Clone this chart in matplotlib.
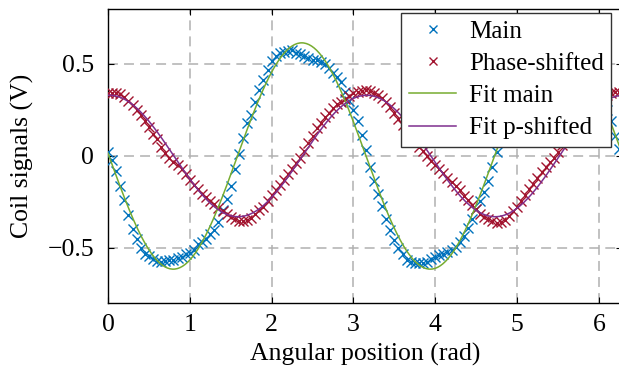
import numpy as np
import matplotlib.pyplot as plt

plt.rcParams['font.family'] = ['Liberation Serif', 'DejaVu Serif']

# sampled angular positions (rad), step 0.05
step = 0.05
n_samples = 126

main = [0.02, -0.02, -0.08, -0.165, -0.24, -0.32, -0.395, -0.45, -0.50, -0.53,
        -0.545, -0.56, -0.57, -0.575, -0.57, -0.565, -0.565, -0.555, -0.547, -0.535,
        -0.525, -0.51, -0.48, -0.465, -0.45, -0.425, -0.40, -0.36, -0.295, -0.235,
        -0.165, -0.07, 0.01, 0.10, 0.18, 0.225, 0.295, 0.36, 0.415, 0.47,
        0.515, 0.545, 0.56, 0.565, 0.572, 0.575, 0.562, 0.552, 0.545, 0.535,
        0.52, 0.52, 0.51, 0.50, 0.48, 0.45, 0.43, 0.40, 0.35, 0.30,
        0.25, 0.19, 0.114, 0.035, -0.06, -0.135, -0.205, -0.27, -0.34, -0.40,
        -0.455, -0.50, -0.535, -0.565, -0.575, -0.58, -0.583, -0.582, -0.575, -0.56,
        -0.55, -0.54, -0.53, -0.52, -0.51, -0.495, -0.465, -0.435, -0.39, -0.34,
        -0.29, -0.245, -0.195, -0.135, -0.06, 0.02, 0.10, 0.18, 0.24, 0.30,
        0.36, 0.42, 0.47, 0.515, 0.545, 0.56, 0.57, 0.575, 0.57, 0.56,
        0.55, 0.54, 0.53, 0.52, 0.51, 0.495, 0.475, 0.45, 0.42, 0.39,
        0.35, 0.30, 0.25, 0.19, 0.11, 0.04]

shifted = [0.345, 0.345, 0.343, 0.337, 0.32, 0.298, 0.277, 0.25, 0.222, 0.192,
           0.157, 0.12, 0.09, 0.05, 0.015, -0.01, -0.03, -0.05, -0.07, -0.10,
           -0.13, -0.155, -0.18, -0.205, -0.225, -0.245, -0.26, -0.28, -0.30, -0.315,
           -0.33, -0.345, -0.355, -0.355, -0.348, -0.335, -0.315, -0.295, -0.275, -0.245,
           -0.21, -0.185, -0.158, -0.13, -0.10, -0.07, -0.04, -0.01, 0.025, 0.07,
           0.11, 0.15, 0.18, 0.21, 0.235, 0.26, 0.28, 0.295, 0.31, 0.325,
           0.34, 0.35, 0.355, 0.36, 0.355, 0.345, 0.33, 0.315, 0.295, 0.265,
           0.235, 0.20, 0.17, 0.14, 0.11, 0.08, 0.05, 0.025, 0.0, -0.025,
           -0.05, -0.072, -0.095, -0.118, -0.14, -0.162, -0.185, -0.215, -0.24, -0.265,
           -0.29, -0.315, -0.33, -0.345, -0.355, -0.365, -0.36, -0.35, -0.325, -0.30,
           -0.275, -0.245, -0.21, -0.18, -0.15, -0.12, -0.085, -0.06, -0.035, -0.01,
           0.02, 0.06, 0.10, 0.14, 0.175, 0.21, 0.24, 0.265, 0.285, 0.30,
           0.315, 0.325, 0.33, 0.34, 0.348, 0.35]

# fitted model parameters: A*cos(2*(x - x0))
fit_main_amp, fit_main_x0 = 0.615, 0.012 + 3 * np.pi / 4
fit_shift_amp, fit_shift_x0 = 0.33, 0.02

x = np.arange(n_samples) * step
xf = np.linspace(0, 2 * np.pi, 400)
fit_main = fit_main_amp * np.cos(2 * (xf - fit_main_x0))
fit_shift = fit_shift_amp * np.cos(2 * (xf - fit_shift_x0))

fig = plt.figure(figsize=(6.19, 3.75), dpi=100)
ax = fig.add_axes([108 / 619, 1 - 303.2 / 375, 514 / 619, 294.4 / 375])

ax.plot(x, main, 'x', color='#0072BD', ms=6.5, mew=1.0, label='Main', zorder=3)
ax.plot(x, shifted, 'x', color='#A2142F', ms=6.5, mew=1.0, label='Phase-shifted', zorder=3)
ax.plot(xf, fit_main, color='#77AC30', lw=1.1, label='Fit main', zorder=4)
ax.plot(xf, fit_shift, color='#7E2F8E', lw=1.1, label='Fit p-shifted', zorder=4)

ax.set_xlim(0, 2 * np.pi)
ax.set_ylim(-0.8, 0.8)
ax.set_xticks([0, 1, 2, 3, 4, 5, 6])
ax.set_yticks([-0.5, 0, 0.5])
ax.set_yticklabels(['\u22120.5', '0', '0.5'])
ax.grid(True, color='#b0b0b0', linestyle=(0, (6.5, 4)), linewidth=1.1)
ax.tick_params(direction='in', labelsize=18.5, length=4, top=True, right=True, pad=8)
ax.tick_params(axis='y', pad=10)
ax.set_xlabel('Angular position (rad)', fontsize=18.5, labelpad=5)
ax.set_ylabel('Coil signals (V)', fontsize=18.5, labelpad=10)
for s in ax.spines.values():
    s.set_linewidth(1.0)

leg = ax.legend(loc='upper right', bbox_to_anchor=(0.979, 0.986), borderaxespad=0,
                fontsize=18, fancybox=False, framealpha=1, edgecolor='#333333',
                handlelength=1.9, labelspacing=0.38, borderpad=0.3, handletextpad=0.5,
                markerscale=0.8)
leg.get_frame().set_linewidth(1.0)

fig.savefig('out.png', dpi=100)
